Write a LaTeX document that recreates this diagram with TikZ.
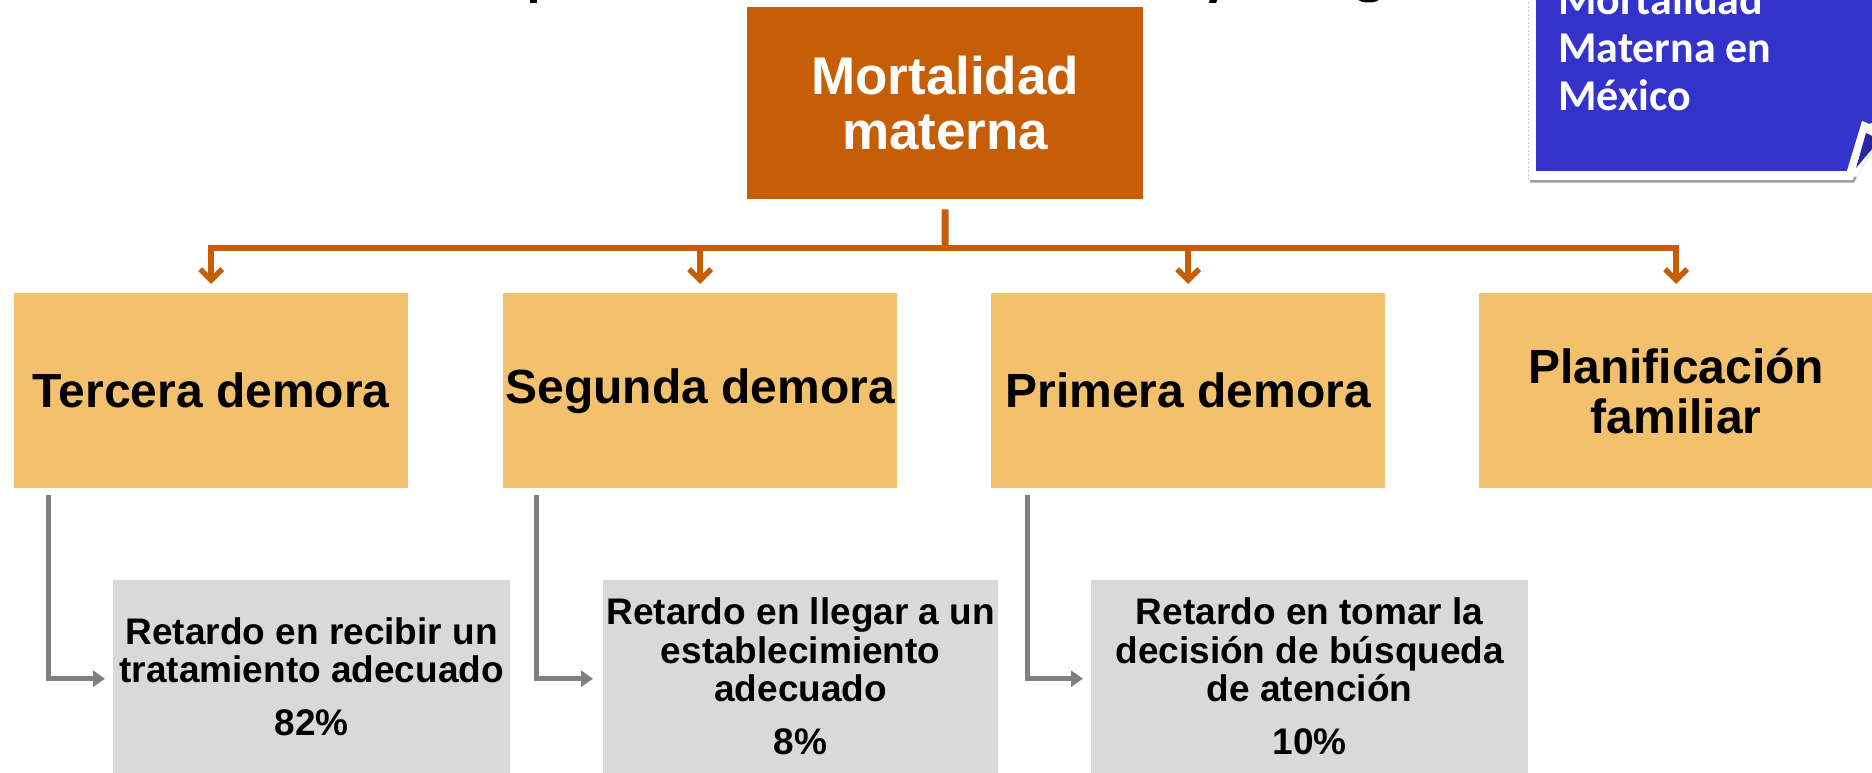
\documentclass[tikz,border=0pt]{standalone}
\usepackage{fontspec}
\setmainfont{Liberation Sans}
\newfontfamily\calibfont{Carlito}
\usetikzlibrary{arrows.meta}
\definecolor{ocol}{RGB}{198,94,8}
\definecolor{lcol}{RGB}{243,192,110}
\definecolor{gcol}{RGB}{217,217,217}
\definecolor{acol}{RGB}{127,127,127}
\definecolor{bcol}{RGB}{51,51,204}
\definecolor{dbcol}{RGB}{38,38,160}
\begin{document}
\begin{tikzpicture}[x=1pt,y=-1pt,
  topbox/.style={fill=ocol, draw=none, inner sep=0pt, anchor=north west, text=white,
    align=center, minimum width=396pt, minimum height=192pt,
    font=\bfseries\fontsize{53}{55}\selectfont},
  delaybox/.style={fill=lcol, draw=none, inner sep=0pt, anchor=north west,
    align=center, minimum width=394pt, minimum height=195pt,
    font=\bfseries\fontsize{48}{50}\selectfont},
  causebox/.style={fill=gcol, draw=none, inner sep=0pt, anchor=north west,
    align=center, minimum height=193pt,
    font=\bfseries\fontsize{37}{38.5}\selectfont},
  oline/.style={draw=ocol, line width=5.5pt},
  oarrow/.style={oline, -{Straight Barb[length=11pt,width=22pt]}},
  garrow/.style={draw=acol, line width=5pt, -{Triangle[length=12pt,width=16pt]}},
]
\useasboundingbox (0,0) rectangle (1872,773);
\clip (0,0) rectangle (1872,773);

% fragments of the cut-off title
\fill[black] (530,-2) rectangle (537,3);
\fill[black] (1210,-2) -- (1218,-2) -- (1216,3) -- (1209,3) -- cycle;
\fill[black] (1357,-2) .. controls (1358,4) and (1379,4) .. (1380,-2) -- cycle;

% blue note top right
\fill[white] (1528,-10) -- (1528,180) -- (1853,180) -- (1872,140) -- (1872,-10) -- cycle;
\draw[gray!45, line width=1pt, dash pattern=on 2pt off 2pt] (1528,-10) -- (1528,180);
\draw[gray!75, line width=2.5pt] (1530,181.5) -- (1853,181.5) -- (1872,148);
\fill[bcol] (1536,-10) -- (1536,171) -- (1849,171) -- (1864,125) -- (1872,123) -- (1872,-10) -- cycle;
\fill[white] (1846,174) -- (1862,121) -- (1872,125) -- (1872,150) -- (1857,177) -- cycle;
\fill[dbcol] (1866,133) -- (1872,136) -- (1872,149) -- (1856,168) -- cycle;
\node[anchor=south west, inner sep=0pt, align=left, text=white,
  font=\calibfont\bfseries\fontsize{44}{48}\selectfont] (note) at (1558,111)
  {Mortalidad\\Materna en\\México};

% main boxes
\node[topbox] (mm) at (747,7) {Mortalidad\\materna};
\node[delaybox] (t3) at (14,293) {Tercera demora};
\node[delaybox] (t2) at (503,293) {Segunda demora};
\node[delaybox] (t1) at (991,293) {Primera demora};
\node[delaybox] (pf) at (1479,293) {Planificación\\familiar};

\node[causebox, minimum width=397pt] (r3) at (113,580)
  {Retardo en recibir un\\tratamiento adecuado\\[14.5pt]82\%};
\node[causebox, minimum width=395pt] (r2) at (603,580)
  {Retardo en llegar a un\\establecimiento\\adecuado\\[14.5pt]8\%};
\node[causebox, minimum width=437pt] (r1) at (1091,580)
  {Retardo en tomar la\\decisión de búsqueda\\de atención\\[14.5pt]10\%};

% orange connectors
\coordinate (hub) at (945,248);
\draw[oline, line width=7pt] ([yshift=-10pt]mm.south) -- ([yshift=-2pt]hub);
\draw[oarrow] (hub) -| ([yshift=9pt]t3.north);
\draw[oarrow] (hub) -| ([yshift=9pt]t2.north);
\draw[oarrow] (hub) -| ([yshift=9pt]t1.north);
\draw[oarrow] (hub) -| ([yshift=9pt]pf.north);

% grey connectors
\draw[garrow, shorten >=8pt] ([xshift=34pt,yshift=-7pt]t3.south west) |- ([yshift=-2pt]r3.west);
\draw[garrow, shorten >=10pt] ([xshift=33pt,yshift=-7pt]t2.south west) |- ([yshift=-2pt]r2.west);
\draw[garrow, shorten >=8pt] ([xshift=36pt,yshift=-7pt]t1.south west) |- ([yshift=-2pt]r1.west);
\end{tikzpicture}
\end{document}
